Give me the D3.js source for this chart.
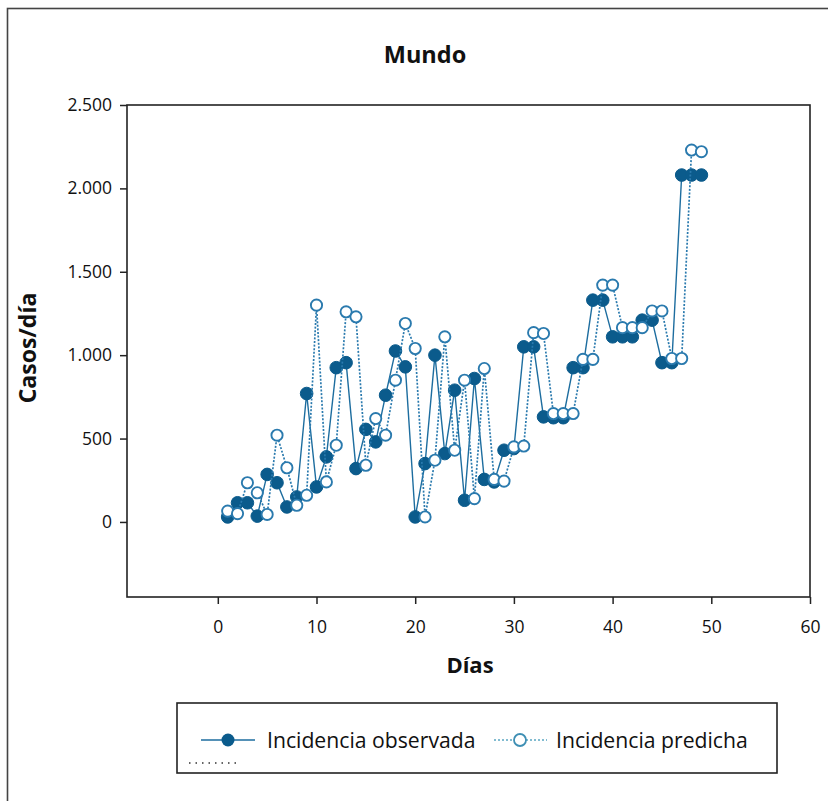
<!DOCTYPE html>
<html>
<head>
<meta charset="utf-8">
<script src="https://cdn.jsdelivr.net/npm/d3@7"></script>
<style>
  html, body { margin: 0; padding: 0; background: #fff; }
  svg { display: block; font-family: "Open Sans", "Noto Sans", sans-serif; }
</style>
</head>
<body>
<svg id="chart" width="828" height="801"></svg>
<script>
// Daily cases, world: observed vs predicted incidence
const days = d3.range(1, 50);
const observed = [
  30, 115, 115, 35, 285, 235, 90, 150, 770, 210,
  390, 925, 955, 320, 555, 480, 760, 1025, 930, 30,
  350, 1000, 410, 790, 130, 860, 255, 240, 430, 440,
  1050, 1050, 630, 625, 625, 925, 925, 1330, 1330, 1110,
  1110, 1110, 1210, 1210, 955, 955, 2080, 2080, 2080
];
const predicted = [
  65, 50, 235, 175, 45, 520, 325, 100, 160, 1300,
  240, 460, 1260, 1230, 340, 620, 520, 850, 1190, 1040,
  30, 370, 1110, 430, 850, 140, 920, 255, 245, 450,
  455, 1135, 1130, 650, 650, 650, 975, 975, 1420, 1420,
  1165, 1165, 1165, 1265, 1265, 980, 980, 2230, 2220
];
const xTicks = [0, 10, 20, 30, 40, 50, 60];
const yTicks = [0, 500, 1000, 1500, 2000, 2500];
const seriesNames = ["Incidencia observada", "Incidencia predicha"];

const svg = d3.select("#chart");
const fmt = d3.formatLocale({ decimal: ",", thousands: ".", grouping: [3], currency: ["", ""] }).format(",d");

const dark = "#0b5b8c";
const lineCol = "#1d6d9f";
const openCol = "#2a7aae";

// outer frame
svg.append("rect")
  .attr("x", 7.5).attr("y", 8.5).attr("width", 900).attr("height", 900)
  .attr("fill", "none").attr("stroke", "#444").attr("stroke-width", 1.6);

svg.append("text")
  .attr("x", 425).attr("y", 63).attr("text-anchor", "middle")
  .attr("font-size", 23.5).attr("font-weight", "bold").attr("fill", "#111")
  .text("Mundo");

const x = d3.scaleLinear().domain([-9.2, 60]).range([127, 810]);
const y = d3.scaleLinear().domain([-450, 2500]).range([597, 105]);

// plot box
svg.append("rect")
  .attr("x", x.range()[0]).attr("y", y.range()[1])
  .attr("width", x.range()[1] - x.range()[0]).attr("height", y.range()[0] - y.range()[1])
  .attr("fill", "none").attr("stroke", "#222").attr("stroke-width", 1.6);

const xAxis = svg.append("g")
  .attr("transform", `translate(0,${y.range()[0]})`)
  .call(d3.axisBottom(x).tickValues(xTicks).tickSize(7).tickPadding(17).tickFormat(d3.format("d")));
const yAxis = svg.append("g")
  .attr("transform", `translate(${x.range()[0]},0)`)
  .call(d3.axisLeft(y).tickValues(yTicks).tickSize(7).tickPadding(8).tickFormat(fmt));
[xAxis, yAxis].forEach(g => {
  g.select(".domain").remove();
  g.selectAll(".tick line").attr("stroke", "#222").attr("stroke-width", 1.5);
  g.selectAll(".tick text").attr("font-size", 17.5).attr("fill", "#111")
    .attr("font-family", "\"Open Sans\", sans-serif");
});

svg.append("text")
  .attr("x", 470).attr("y", 673).attr("text-anchor", "middle")
  .attr("font-size", 22).attr("font-weight", "bold").attr("fill", "#111")
  .text("Días");
svg.append("text")
  .attr("transform", "translate(36,348) rotate(-90)").attr("text-anchor", "middle")
  .attr("font-size", 23).attr("font-weight", "bold").attr("fill", "#111")
  .text("Casos/día");

const obsData = days.map((d, i) => ({ d, v: observed[i] }));
const predData = days.map((d, i) => ({ d, v: predicted[i] }));
const line = d3.line().x(p => x(p.d)).y(p => y(p.v));

svg.append("path").datum(obsData).attr("d", line)
  .attr("fill", "none").attr("stroke", lineCol).attr("stroke-width", 1.4);
svg.append("g").selectAll("circle").data(obsData).join("circle")
  .attr("cx", p => x(p.d)).attr("cy", p => y(p.v)).attr("r", 6.3)
  .attr("fill", dark).attr("stroke", dark).attr("stroke-width", 1);

svg.append("path").datum(predData).attr("d", line)
  .attr("fill", "none").attr("stroke", openCol).attr("stroke-width", 1.7)
  .attr("stroke-dasharray", "2,1.6");
svg.append("g").selectAll("circle").data(predData).join("circle")
  .attr("cx", p => x(p.d)).attr("cy", p => y(p.v)).attr("r", 5.6)
  .attr("fill", "#fff").attr("stroke", openCol).attr("stroke-width", 1.9);

// legend
const lg = svg.append("g");
lg.append("rect").attr("x", 177).attr("y", 703).attr("width", 600).attr("height", 70)
  .attr("fill", "#fff").attr("stroke", "#222").attr("stroke-width", 1.6);
lg.append("line").attr("x1", 201).attr("x2", 255).attr("y1", 740).attr("y2", 740)
  .attr("stroke", lineCol).attr("stroke-width", 1.6);
lg.append("circle").attr("cx", 228).attr("cy", 740).attr("r", 6.5).attr("fill", dark);
lg.append("text").attr("x", 267).attr("y", 748).attr("font-size", 21.2).attr("fill", "#111")
  .text(seriesNames[0]);
lg.append("line").attr("x1", 494).attr("x2", 547).attr("y1", 740).attr("y2", 740)
  .attr("stroke", "#5aa7c2").attr("stroke-width", 1.6).attr("stroke-dasharray", "2,2");
lg.append("circle").attr("cx", 520).attr("cy", 740).attr("r", 6).attr("fill", "#fff")
  .attr("stroke", "#3f8fb4").attr("stroke-width", 1.8);
lg.append("text").attr("x", 556).attr("y", 748).attr("font-size", 21.2).attr("fill", "#111")
  .text(seriesNames[1]);
lg.append("line").attr("x1", 189).attr("x2", 241).attr("y1", 763).attr("y2", 763)
  .attr("stroke", "#333").attr("stroke-width", 1.5).attr("stroke-dasharray", "1.5,5");
</script>
</body>
</html>
